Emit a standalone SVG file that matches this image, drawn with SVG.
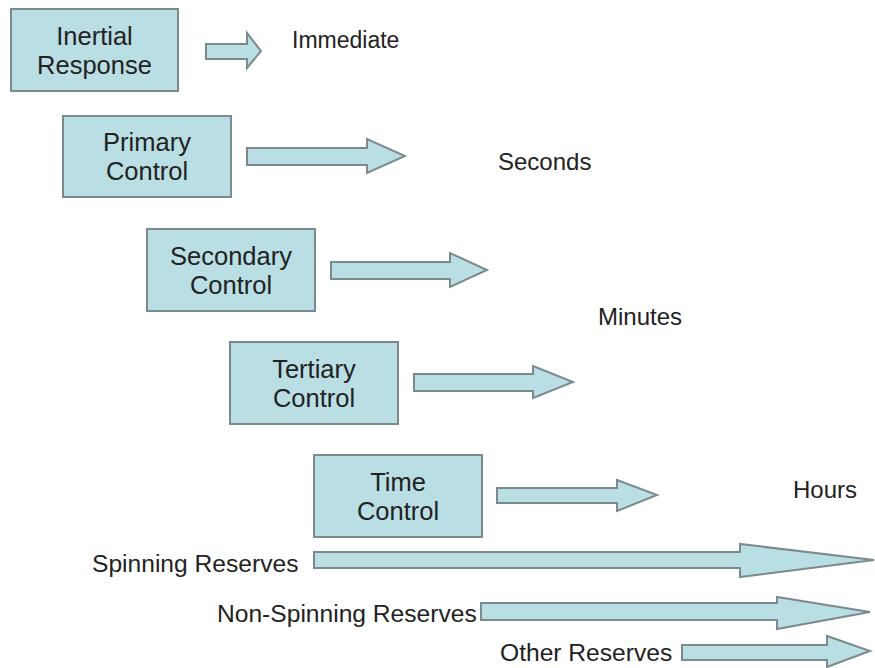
<svg xmlns="http://www.w3.org/2000/svg" width="875" height="668" viewBox="0 0 875 668">
<style>
.box{fill:#b9dfe4;stroke:#7b8b8d;stroke-width:2}
.arr{fill:#b9dfe4;stroke:#7b8b8d;stroke-width:2;stroke-linejoin:miter}
text{font-family:"Liberation Sans",Arial,sans-serif;font-size:24px;fill:#222}
.c{text-anchor:middle;font-size:25.5px}
.r{font-size:24.6px}
</style>
<rect width="875" height="668" fill="#fff"/>
<g id="inertial">
<rect class="box" x="11" y="9" width="167" height="82"/>
<text class="c" x="94.5" y="45">Inertial</text>
<text class="c" x="94.5" y="74">Response</text>
</g>
<g id="primary">
<rect class="box" x="63" y="116" width="168" height="81"/>
<text class="c" x="147" y="151">Primary</text>
<text class="c" x="147" y="180">Control</text>
</g>
<g id="secondary">
<rect class="box" x="147" y="229" width="168" height="82"/>
<text class="c" x="231" y="265">Secondary</text>
<text class="c" x="231" y="294">Control</text>
</g>
<g id="tertiary">
<rect class="box" x="230" y="342" width="168" height="82"/>
<text class="c" x="314" y="378">Tertiary</text>
<text class="c" x="314" y="407">Control</text>
</g>
<g id="time">
<rect class="box" x="314" y="455" width="168" height="82"/>
<text class="c" x="398" y="491">Time</text>
<text class="c" x="398" y="520">Control</text>
</g>
<g id="labels">
<text x="292" y="48" style="font-size:23px">Immediate</text>
<text x="498" y="170">Seconds</text>
<text x="598" y="325">Minutes</text>
<text x="793" y="498">Hours</text>
<text class="r" x="92" y="572">Spinning Reserves</text>
<text class="r" x="217" y="622">Non-Spinning Reserves</text>
<text class="r" x="500" y="661">Other Reserves</text>
</g>
<g id="connectors">
<polygon class="arr" points="206,44 247,44 247,33 261,51 247,68 247,59 206,59"/>
<polygon class="arr" points="247,148 367,148 367,139 405,156 367,173 367,165 247,165"/>
<polygon class="arr" points="331,262 450,262 450,253 487,270 450,287 450,279 331,279"/>
<polygon class="arr" points="414,374 533,374 533,366 573,382 533,398 533,391 414,391"/>
<polygon class="arr" points="497,488 617,488 617,480 657,495 617,511 617,503 497,503"/>
<polygon class="arr" points="314,552 740,552 740,544 874,560 740,577 740,568 314,568"/>
<polygon class="arr" points="481,603 777,603 777,597 870,612 777,629 777,620 481,620"/>
<polygon class="arr" points="682,645 827,645 827,636 870,651 827,667 827,660 682,660"/>
</g>
</svg>
